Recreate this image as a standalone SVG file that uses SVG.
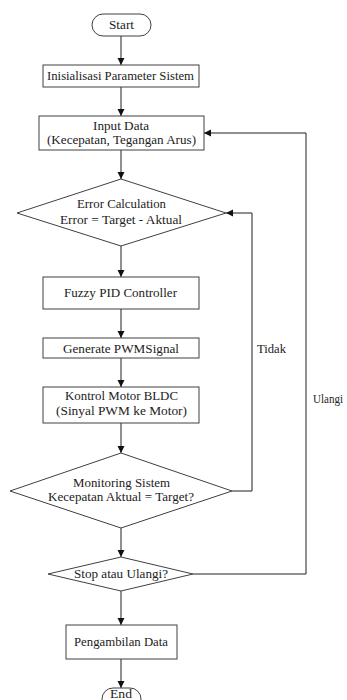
<svg xmlns="http://www.w3.org/2000/svg" width="347" height="700" viewBox="0 0 347 700">
  <style>
    .shape { fill: #ffffff; stroke: #404040; stroke-width: 1; }
    .edge { fill: none; stroke: #202020; stroke-width: 1; }
    .t { font-family: 'Liberation Serif', 'Times New Roman', 'DejaVu Serif', serif; font-size: 12.5px; fill: #222222; text-anchor: middle; }
    .lbl { text-anchor: start; }
  </style>
  <defs>
    <marker id="arrow" markerWidth="8" markerHeight="8" refX="7" refY="3.5" orient="auto" markerUnits="userSpaceOnUse">
      <path d="M0,0 L7,3.5 L0,7 Z" fill="#101010"/>
    </marker>
  </defs>
  <rect width="347" height="700" fill="#ffffff"/>

  <g id="connectors">
    <line class="edge" x1="121" y1="36" x2="121" y2="65" marker-end="url(#arrow)"/>
    <line class="edge" x1="121" y1="87" x2="121" y2="116" marker-end="url(#arrow)"/>
    <line class="edge" x1="121" y1="150" x2="121" y2="179" marker-end="url(#arrow)"/>
    <line class="edge" x1="121" y1="246" x2="121" y2="277" marker-end="url(#arrow)"/>
    <line class="edge" x1="121" y1="309" x2="121" y2="338" marker-end="url(#arrow)"/>
    <line class="edge" x1="121" y1="358" x2="121" y2="387" marker-end="url(#arrow)"/>
    <line class="edge" x1="121" y1="423" x2="121" y2="453" marker-end="url(#arrow)"/>
    <line class="edge" x1="121" y1="528" x2="121" y2="557" marker-end="url(#arrow)"/>
    <line class="edge" x1="121" y1="591" x2="121" y2="625" marker-end="url(#arrow)"/>
    <line class="edge" x1="121" y1="659" x2="121" y2="688" marker-end="url(#arrow)"/>
    <!-- Tidak: back to error calculation -->
    <polyline class="edge" points="232,491 252,491 252,213 226,213" marker-end="url(#arrow)"/>
    <!-- Ulangi: back to input data -->
    <polyline class="edge" points="193,574 306,574 306,133 204,133" marker-end="url(#arrow)"/>
    <text class="t lbl" x="257" y="353" textLength="29" lengthAdjust="spacingAndGlyphs">Tidak</text>
    <text class="t lbl" x="313" y="403" textLength="30" lengthAdjust="spacingAndGlyphs">Ulangi</text>
  </g>

  <g id="start">
    <rect class="shape" x="92" y="14" width="59" height="22" rx="11"/>
    <text class="t" x="121.5" y="29" textLength="25" lengthAdjust="spacingAndGlyphs">Start</text>
  </g>
  <g id="init">
    <rect class="shape" x="43" y="65" width="156" height="22"/>
    <text class="t" x="120.5" y="80" textLength="147" lengthAdjust="spacingAndGlyphs">Inisialisasi Parameter Sistem</text>
  </g>
  <g id="input">
    <rect class="shape" x="39" y="116" width="165" height="34"/>
    <text class="t" x="121" y="130" textLength="56" lengthAdjust="spacingAndGlyphs">Input Data</text>
    <text class="t" x="121.5" y="144" textLength="149" lengthAdjust="spacingAndGlyphs">(Kecepatan, Tegangan Arus)</text>
  </g>
  <g id="error">
    <polygon class="shape" points="121,179 226,213 121,246 17,213"/>
    <text class="t" x="121.5" y="208" textLength="89" lengthAdjust="spacingAndGlyphs">Error Calculation</text>
    <text class="t" x="121" y="224" textLength="122" lengthAdjust="spacingAndGlyphs">Error = Target - Aktual</text>
  </g>
  <g id="fuzzy">
    <rect class="shape" x="43" y="277" width="156" height="32"/>
    <text class="t" x="120.5" y="297" textLength="113" lengthAdjust="spacingAndGlyphs">Fuzzy PID Controller</text>
  </g>
  <g id="pwm">
    <rect class="shape" x="43" y="338" width="156" height="20"/>
    <text class="t" x="121" y="352.5" textLength="116" lengthAdjust="spacingAndGlyphs">Generate PWMSignal</text>
  </g>
  <g id="motor">
    <rect class="shape" x="43" y="387" width="156" height="36"/>
    <text class="t" x="121.5" y="400" textLength="113" lengthAdjust="spacingAndGlyphs">Kontrol Motor BLDC</text>
    <text class="t" x="121.5" y="415" textLength="131" lengthAdjust="spacingAndGlyphs">(Sinyal PWM ke Motor)</text>
  </g>
  <g id="monitor">
    <polygon class="shape" points="121,453 232,491 121,528 10,491"/>
    <text class="t" x="121.5" y="487" textLength="97" lengthAdjust="spacingAndGlyphs">Monitoring Sistem</text>
    <text class="t" x="121" y="501" textLength="146" lengthAdjust="spacingAndGlyphs">Kecepatan Aktual = Target?</text>
  </g>
  <g id="stop">
    <polygon class="shape" points="121,557 193,574 121,591 48,574"/>
    <text class="t" x="121" y="578" textLength="94" lengthAdjust="spacingAndGlyphs">Stop atau Ulangi?</text>
  </g>
  <g id="data">
    <rect class="shape" x="66" y="625" width="111" height="34"/>
    <text class="t" x="121" y="646" textLength="94" lengthAdjust="spacingAndGlyphs">Pengambilan Data</text>
  </g>
  <g id="end">
    <rect class="shape" x="102" y="688" width="39" height="22" rx="11"/>
    <text class="t" x="121" y="697.5" font-size="11.5" textLength="22" lengthAdjust="spacingAndGlyphs">End</text>
  </g>
</svg>
